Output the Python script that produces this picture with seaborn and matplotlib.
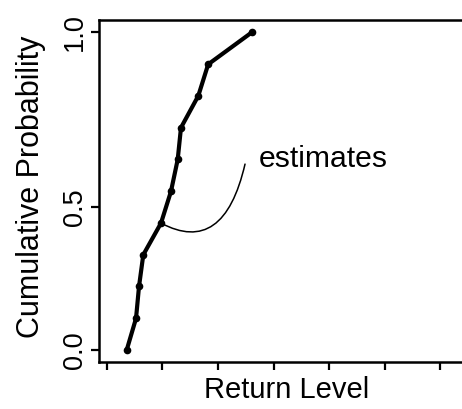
import numpy as np
import pandas as pd
import matplotlib
matplotlib.use("Agg")
import matplotlib.pyplot as plt
import seaborn as sns

# Return level estimates (sorted) and their cumulative probabilities
return_level = [3.55, 5.23, 5.77, 6.54, 9.73, 11.53, 12.74, 13.33, 16.45, 18.23, 26.07]
cum_prob = [0.0, 0.111, 0.223, 0.334, 0.445, 0.546, 0.637, 0.728, 0.819, 0.909, 1.0]
y_ticks = [0.0, 0.5, 1.0]
y_tick_labels = ["0.0", "0.5", "1.0"]
x_ticks = [0, 10, 20, 30, 40, 50, 60]
annot_index = 4
annot_text = "estimates"

df = pd.DataFrame({"level": return_level, "prob": cum_prob})

sns.set_theme(style="ticks")
plt.rcParams["font.family"] = ["Liberation Sans", "DejaVu Sans"]
plt.rcParams["text.color"] = "black"
plt.rcParams["axes.labelcolor"] = "black"
plt.rcParams["xtick.color"] = "black"
plt.rcParams["ytick.color"] = "black"

fig = plt.figure(figsize=(4.62, 4.09), dpi=100)
ax = fig.add_axes([99 / 462, 47 / 409, 376 / 462, 342 / 409])

# probability axis: stretched below the median, compressed above
k_lo, k_hi, mid = 0.898, 1.102, 0.449


def fwd(p):
    p = np.asarray(p, dtype=float)
    return np.where(p < 0.5, p * k_lo, mid + (p - 0.5) * k_hi)


def inv(f):
    f = np.asarray(f, dtype=float)
    return np.where(f < mid, f / k_lo, 0.5 + (f - mid) / k_hi)


ax.set_yscale("function", functions=(fwd, inv))

sns.lineplot(data=df, x="level", y="prob", ax=ax, color="black", lw=3.0,
             marker="o", markersize=5.5, markeredgewidth=0, estimator=None,
             sort=False)

ax.annotate("", xy=(return_level[annot_index], cum_prob[annot_index]),
            xytext=(60.5, 42.5), textcoords="offset points",
            arrowprops=dict(arrowstyle="-", color="black", lw=1.1,
                            shrinkA=0, shrinkB=0,
                            connectionstyle="angle3,angleA=77,angleB=-28"))
ax.annotate(annot_text, xy=(return_level[annot_index], cum_prob[annot_index]),
            xytext=(70.5, 46), textcoords="offset points",
            ha="left", va="center", fontsize=21.7, color="black")

ax.set_xlim(-1.44, 66.3)
ax.set_ylim(-0.042, 1.0356)
ax.set_xticks(x_ticks)
ax.set_xticklabels([])
ax.set_yticks(y_ticks)
ax.set_yticklabels(y_tick_labels, rotation=90, va="center", fontsize=19.5)
ax.tick_params(axis="both", length=5.8, width=1.6, color="black", pad=2)

for side in ["left", "bottom", "top", "right"]:
    ax.spines[side].set_visible(True)
    ax.spines[side].set_linewidth(1.8)
    ax.spines[side].set_color("black")

ax.set_xlabel("Return Level", fontsize=21, color="black")
ax.set_ylabel("Cumulative Probability", fontsize=22, color="black")
ax.xaxis.set_label_coords(0.5, -0.041)
ax.yaxis.set_label_coords(-0.141, 0.513)

fig.savefig("out.png", dpi=100, facecolor="white")
